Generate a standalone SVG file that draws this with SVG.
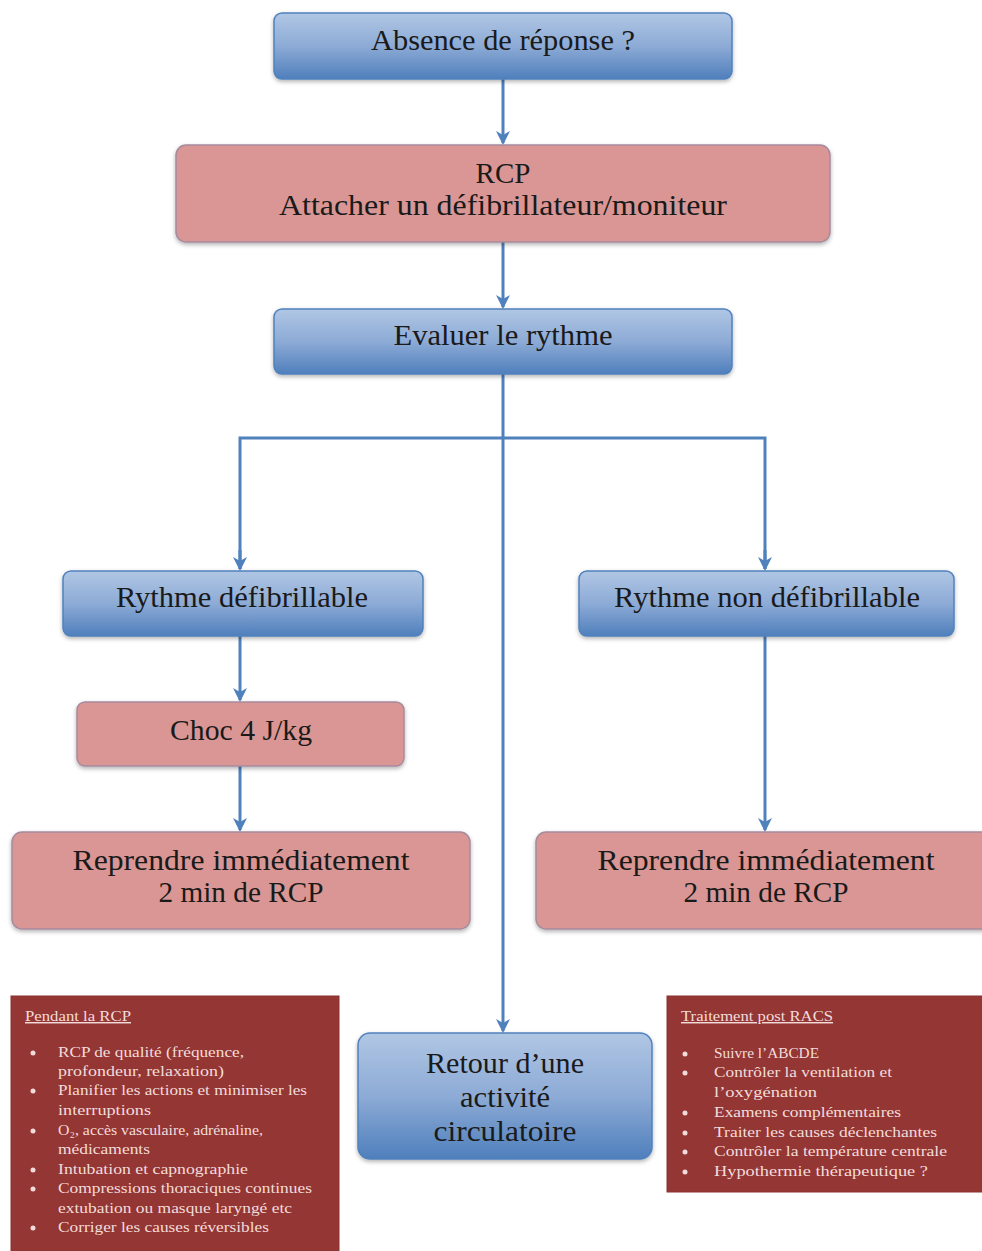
<svg xmlns="http://www.w3.org/2000/svg" width="982" height="1251" viewBox="0 0 982 1251">
<defs>
  <linearGradient id="blueGrad" x1="0" y1="0" x2="0" y2="1">
    <stop offset="0" stop-color="#B0C6E4"/>
    <stop offset="0.5" stop-color="#8DABD6"/>
    <stop offset="1" stop-color="#4F7FBC"/>
  </linearGradient>
  <filter id="shadow" x="-5%" y="-10%" width="110%" height="130%">
    <feDropShadow dx="0" dy="2" stdDeviation="2" flood-color="#000" flood-opacity="0.3"/>
  </filter>
  <marker id="arrow" markerUnits="userSpaceOnUse" markerWidth="14" markerHeight="14" viewBox="0 0 14 14" refX="12" refY="7" orient="auto">
    <path d="M0,0 L14,7 L0,14 L4,7 z" fill="#4F81BD"/>
  </marker>
  <style>
    .blue { fill: url(#blueGrad); stroke: #4F81BD; stroke-width: 1.5; filter: url(#shadow); }
    .pink { fill: #D99694; stroke: #A68A9E; stroke-width: 1.5; filter: url(#shadow); }
    .dark { fill: #943634; stroke: #8A3230; stroke-width: 1; }
    .lbl { font-family: "Liberation Serif", "Times New Roman", serif; font-size: 29px; fill: #1A1A1A; text-anchor: middle; }
    .sm { font-family: "Liberation Serif", "Times New Roman", serif; font-size: 14.5px; fill: #F2DCDB; }
    .bul { fill: #F2DCDB; }
    .conn { fill: none; stroke: #4F81BD; stroke-width: 3; }
  </style>
</defs>

<g id="connectors">
  <line class="conn" x1="503" y1="79" x2="503" y2="143" marker-end="url(#arrow)"/>
  <line class="conn" x1="503" y1="242" x2="503" y2="307" marker-end="url(#arrow)"/>
  <line class="conn" x1="503" y1="374" x2="503" y2="1031" marker-end="url(#arrow)"/>
  <polyline class="conn" points="240,569 240,438 765,438 765,569"/>
  <line class="conn" x1="240" y1="550" x2="240" y2="569" marker-end="url(#arrow)"/>
  <line class="conn" x1="765" y1="550" x2="765" y2="569" marker-end="url(#arrow)"/>
  <line class="conn" x1="240" y1="636" x2="240" y2="700" marker-end="url(#arrow)"/>
  <line class="conn" x1="240" y1="766" x2="240" y2="830" marker-end="url(#arrow)"/>
  <line class="conn" x1="765" y1="636" x2="765" y2="830" marker-end="url(#arrow)"/>
</g>

<g id="node-absence">
  <rect class="blue" x="274" y="13" width="458" height="66" rx="8"/>
  <text class="lbl" x="503" y="50" textLength="264" lengthAdjust="spacingAndGlyphs">Absence de réponse ?</text>
</g>

<g id="node-rcp">
  <rect class="pink" x="176" y="145" width="654" height="97" rx="10"/>
  <text class="lbl" x="503" y="183">RCP</text>
  <text class="lbl" x="503" y="215" textLength="448" lengthAdjust="spacingAndGlyphs">Attacher un défibrillateur/moniteur</text>
</g>

<g id="node-evaluer">
  <rect class="blue" x="274" y="309" width="458" height="65" rx="8"/>
  <text class="lbl" x="503" y="345" textLength="219" lengthAdjust="spacingAndGlyphs">Evaluer le rythme</text>
</g>

<g id="node-defib">
  <rect class="blue" x="63" y="571" width="360" height="65" rx="8"/>
  <text class="lbl" x="242" y="607" textLength="252" lengthAdjust="spacingAndGlyphs">Rythme défibrillable</text>
</g>

<g id="node-nondefib">
  <rect class="blue" x="579" y="571" width="375" height="65" rx="8"/>
  <text class="lbl" x="767" y="607" textLength="306" lengthAdjust="spacingAndGlyphs">Rythme non défibrillable</text>
</g>

<g id="node-choc">
  <rect class="pink" x="77" y="702" width="327" height="64" rx="8"/>
  <text class="lbl" x="241" y="740" textLength="142" lengthAdjust="spacingAndGlyphs">Choc 4 J/kg</text>
</g>

<g id="node-reprendre-left">
  <rect class="pink" x="12" y="832" width="458" height="97" rx="10"/>
  <text class="lbl" x="241" y="870" textLength="337" lengthAdjust="spacingAndGlyphs">Reprendre immédiatement</text>
  <text class="lbl" x="241" y="902" textLength="165" lengthAdjust="spacingAndGlyphs">2 min de RCP</text>
</g>

<g id="node-reprendre-right">
  <rect class="pink" x="536" y="832" width="456" height="97" rx="10"/>
  <text class="lbl" x="766" y="870" textLength="337" lengthAdjust="spacingAndGlyphs">Reprendre immédiatement</text>
  <text class="lbl" x="766" y="902" textLength="165" lengthAdjust="spacingAndGlyphs">2 min de RCP</text>
</g>

<g id="node-retour">
  <rect class="blue" x="358" y="1033" width="294" height="126" rx="12"/>
  <text class="lbl" x="505" y="1073" textLength="158" lengthAdjust="spacingAndGlyphs">Retour d’une</text>
  <text class="lbl" x="505" y="1107" textLength="90" lengthAdjust="spacingAndGlyphs">activité</text>
  <text class="lbl" x="505" y="1141" textLength="143" lengthAdjust="spacingAndGlyphs">circulatoire</text>
</g>

<g id="node-pendant">
  <rect class="dark" x="11" y="996" width="328" height="262"/>
  <text class="sm" x="25" y="1021" text-decoration="underline" textLength="106" lengthAdjust="spacingAndGlyphs">Pendant la RCP</text>
  <circle class="bul" cx="33" cy="1053" r="2.5"/>
  <text class="sm" x="58" y="1057" textLength="186" lengthAdjust="spacingAndGlyphs">RCP de qualité (fréquence,</text>
  <text class="sm" x="58" y="1076" textLength="166" lengthAdjust="spacingAndGlyphs">profondeur,  relaxation)</text>
  <circle class="bul" cx="33" cy="1091" r="2.5"/>
  <text class="sm" x="58" y="1095" textLength="249" lengthAdjust="spacingAndGlyphs">Planifier les actions et minimiser les</text>
  <text class="sm" x="58" y="1115" textLength="93" lengthAdjust="spacingAndGlyphs">interruptions</text>
  <circle class="bul" cx="33" cy="1131" r="2.5"/>
  <text class="sm" x="58" y="1135" textLength="205" lengthAdjust="spacingAndGlyphs">O₂, accès vasculaire, adrénaline,</text>
  <text class="sm" x="58" y="1154" textLength="92" lengthAdjust="spacingAndGlyphs">médicaments</text>
  <circle class="bul" cx="33" cy="1170" r="2.5"/>
  <text class="sm" x="58" y="1174" textLength="190" lengthAdjust="spacingAndGlyphs">Intubation et capnographie</text>
  <circle class="bul" cx="33" cy="1189" r="2.5"/>
  <text class="sm" x="58" y="1193" textLength="254" lengthAdjust="spacingAndGlyphs">Compressions thoraciques continues</text>
  <text class="sm" x="58" y="1213" textLength="234" lengthAdjust="spacingAndGlyphs">extubation ou masque laryngé etc</text>
  <circle class="bul" cx="33" cy="1228" r="2.5"/>
  <text class="sm" x="58" y="1232" textLength="211" lengthAdjust="spacingAndGlyphs">Corriger les causes réversibles</text>
</g>

<g id="node-post-racs">
  <rect class="dark" x="667" y="996" width="320" height="196"/>
  <text class="sm" x="681" y="1021" text-decoration="underline" textLength="152" lengthAdjust="spacingAndGlyphs">Traitement post RACS</text>
  <circle class="bul" cx="685" cy="1054" r="2.5"/>
  <text class="sm" x="714" y="1058" textLength="105" lengthAdjust="spacingAndGlyphs">Suivre l’ABCDE</text>
  <circle class="bul" cx="685" cy="1073" r="2.5"/>
  <text class="sm" x="714" y="1077" textLength="178" lengthAdjust="spacingAndGlyphs">Contrôler la ventilation et</text>
  <text class="sm" x="714" y="1097" textLength="103" lengthAdjust="spacingAndGlyphs">l’oxygénation</text>
  <circle class="bul" cx="685" cy="1113" r="2.5"/>
  <text class="sm" x="714" y="1117" textLength="187" lengthAdjust="spacingAndGlyphs">Examens complémentaires</text>
  <circle class="bul" cx="685" cy="1133" r="2.5"/>
  <text class="sm" x="714" y="1137" textLength="223" lengthAdjust="spacingAndGlyphs">Traiter les causes déclenchantes</text>
  <circle class="bul" cx="685" cy="1152" r="2.5"/>
  <text class="sm" x="714" y="1156" textLength="233" lengthAdjust="spacingAndGlyphs">Contrôler la température centrale</text>
  <circle class="bul" cx="685" cy="1172" r="2.5"/>
  <text class="sm" x="714" y="1176" textLength="214" lengthAdjust="spacingAndGlyphs">Hypothermie thérapeutique ?</text>
</g>
</svg>
